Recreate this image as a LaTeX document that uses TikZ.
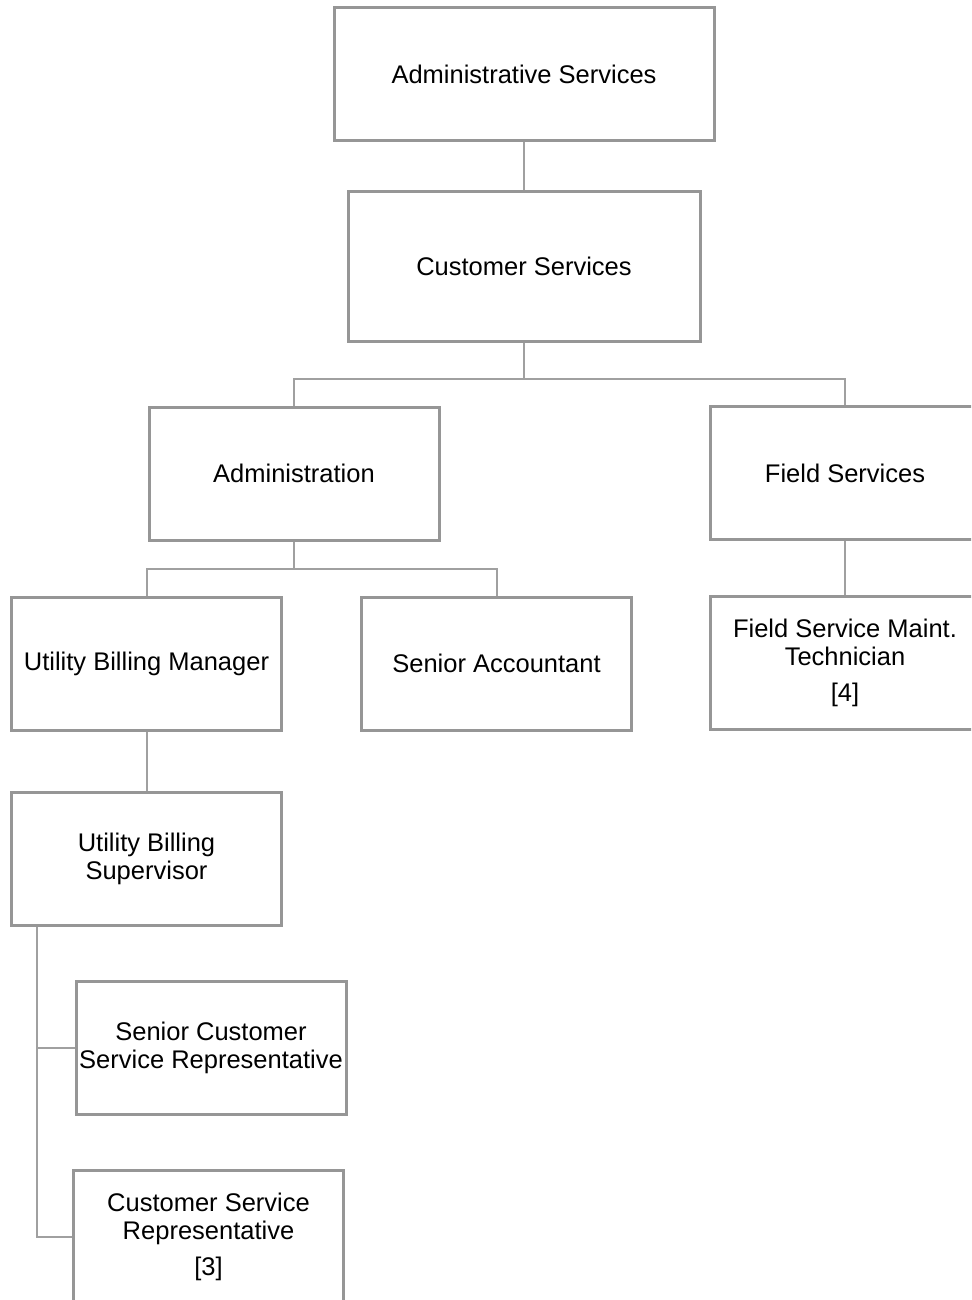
\documentclass[tikz,border=0pt]{standalone}
\usepackage{fontspec}
\setmainfont{Liberation Sans}
\definecolor{boxgray}{RGB}{150,150,150}
\definecolor{linegray}{RGB}{160,160,160}
\begin{document}
\begin{tikzpicture}[
                x=1pt, y=-1pt,
                unit/.style={draw=boxgray, line width=3pt, fill=white,
                        minimum width=270pt, minimum height=133pt,
                        align=center, inner sep=0pt,
                        font=\fontsize{25.5}{28}\selectfont},
                link/.style={draw=linegray, line width=2pt}
            ]
            \useasboundingbox (0,0) rectangle (971,1300);
            \clip (0,0) rectangle (971,1300);

            % top of the chart
            \node[unit, minimum width=380pt] (admsvc) at (524,74.5) {Administrative Services};
            \node[unit, minimum width=352pt, minimum height=149pt] (custsvc) at (524,266.5) {Customer Services};

            % second level
            \node[unit, minimum width=290pt] (admin) at (294,473.5) {Administration};
            \node[unit] (field) at (845,473) {Field Services};

            % third level
            \node[unit] (ubmgr) at (146.5,663.5) {Utility Billing Manager};
            \node[unit] (sracct) at (496.5,663.5) {Senior Accountant};
            \node[unit] (fsmt) at (845,662.5) {Field Service Maint.\\Technician\\[8pt][4]};

            % billing staff
            \node[unit] (ubsup) at (146.5,859) {Utility Billing\\Supervisor};
            \node[unit] (scsr) at (211,1048) {Senior Customer\\Service Representative};
            \node[unit] (csr) at (208.5,1236.5) {Customer Service\\Representative\\[8pt][3]};

            % connectors
            \draw[link] (admsvc.south) -- (custsvc.north);
            \draw[link] (custsvc.south) -- ++(0,36) coordinate (split1);
            \draw[link] (admin.north) |- (split1) -| (field.north);
            \draw[link] (admin.south) -- ++(0,27) coordinate (split2);
            \draw[link] (ubmgr.north) |- (split2) -| (sracct.north);
            \draw[link] (field.south) -- (fsmt.north);
            \draw[link] (ubmgr.south) -- (ubsup.north);
            \draw[link] ([xshift=27pt]ubsup.south west) coordinate (stem)
                |- (csr.west);
            \draw[link] (stem) |- (scsr.west);

        \end{tikzpicture}
\end{document}
